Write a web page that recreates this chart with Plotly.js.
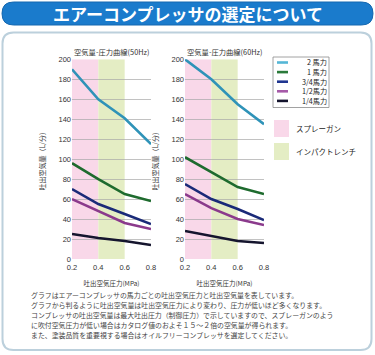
<!DOCTYPE html>
<html><head><meta charset="utf-8">
<script src="https://cdn.plot.ly/plotly-3.0.1.min.js"></script>
<style>html,body{margin:0;padding:0;background:#fff}#chart{width:375px;height:355px}</style>
</head><body><div id="chart"></div>
<script>
// ---- data ----
const pressure = [0.2, 0.4, 0.6, 0.8];
const seriesNames = ['2\u00a0馬力', '1\u00a0馬力', '3/4馬力', '1/2馬力', '1/4馬力'];
const seriesColors = ['#2f93b8', '#1e6b2e', '#1a2a78', '#8b3a8c', '#15152e'];
const legendColors = ['#55b6d6', '#2a7a3a', '#1f3590', '#a65aa8', '#15152e'];
const hz50_2hp = [190, 160, 141, 115];
const hz50_1hp = [96, 80, 65, 58];
const hz50_34hp = [70, 55, 45, 35];
const hz50_12hp = [60, 48, 36, 30];
const hz50_14hp = [25, 21, 18, 14];
const hz60_2hp = [200, 180, 155, 135];
const hz60_1hp = [102, 87, 72, 65];
const hz60_34hp = [75, 60, 50, 39];
const hz60_12hp = [65, 51, 40, 34];
const hz60_14hp = [28, 23, 18, 16];
const bandNames = ['スプレーガン', 'インパクトレンチ'];
const bandRanges = [[0.2, 0.4], [0.4, 0.6]];
const bandColors = ['#f9d8e9', '#e4edc4'];
const xTicks = [0.2, 0.4, 0.6, 0.8];
const yTicks = [0, 20, 40, 60, 80, 100, 120, 140, 160, 180, 200];
const mainTitle = 'エアーコンプレッサの選定について';
const chartTitles = ['空気量-圧力曲線(50Hz)', '空気量-圧力曲線(60Hz)'];
const xTitle = '吐出空気圧力(MPa)';
const yTitle = '吐出空気量（L/分）';
const notes = [
  'グラフはエアーコンプレッサの馬力ごとの吐出空気圧力と吐出空気量を表しています。',
  'グラフから判るように吐出空気量は吐出空気圧力により変わり、圧力が低いほど多くなります。',
  'コンプレッサの吐出空気量は最大吐出圧力（制御圧力）で示していますので、スプレーガンのよう',
  'に吹付空気圧力が低い場合はカタログ値のおよそ１５～２倍の空気量が得られます。',
  'また、塗装品質を重要視する場合はオイルフリーコンプレッサを選定してください。'
];

// ---- layout helpers ----
const W = 375, H = 355;
const px = x => x / W;
const py = y => 1 - y / H;
const JP = '"Noto Sans CJK JP", "Noto Sans", sans-serif';
function roundRect(x0, y0, x1, y1, r) {
  const p = (x, y) => px(x) + ',' + py(y);
  return 'M' + p(x0 + r, y0) + ' L' + p(x1 - r, y0) + ' Q' + p(x1, y0) + ' ' + p(x1, y0 + r) +
    ' L' + p(x1, y1 - r) + ' Q' + p(x1, y1) + ' ' + p(x1 - r, y1) +
    ' L' + p(x0 + r, y1) + ' Q' + p(x0, y1) + ' ' + p(x0, y1 - r) +
    ' L' + p(x0, y0 + r) + ' Q' + p(x0, y0) + ' ' + p(x0 + r, y0) + ' Z';
}

const set50 = [hz50_2hp, hz50_1hp, hz50_34hp, hz50_12hp, hz50_14hp];
const set60 = [hz60_2hp, hz60_1hp, hz60_34hp, hz60_12hp, hz60_14hp];
const traces = [];
[set50, set60].forEach((set, k) => {
  set.forEach((vals, i) => {
    traces.push({
      type: 'scatter', mode: 'lines', x: pressure, y: vals, name: seriesNames[i],
      xaxis: k ? 'x2' : 'x', yaxis: k ? 'y2' : 'y', showlegend: false,
      line: {color: seriesColors[i], width: 2.6}, hoverinfo: 'skip'
    });
  });
});

const shapes = [];
const annotations = [];
// panel
shapes.push({type: 'path', xref: 'paper', yref: 'paper', path: roundRect(2.5, 32.5, 371.5, 350, 11),
  fillcolor: '#ffffff', line: {color: '#bcd0dc', width: 2}, layer: 'below'});
// title bar
shapes.push({type: 'path', xref: 'paper', yref: 'paper', path: roundRect(2, 2, 373, 25, 11.5),
  fillcolor: '#1a7bcc', line: {color: '#1568b0', width: 1}, layer: 'below'});
annotations.push({xref: 'paper', yref: 'paper', x: px(188), y: py(13.5), text: mainTitle, showarrow: false,
  xanchor: 'center', yanchor: 'middle', font: {family: JP, size: 17, color: '#ffffff', weight: 'bold'}});

// bands
['x', 'x2'].forEach((xa, k) => {
  bandRanges.forEach((r, j) => {
    shapes.push({type: 'rect', xref: xa, yref: k ? 'y2' : 'y', x0: r[0], x1: r[1], y0: 0, y1: 200,
      fillcolor: bandColors[j], line: {width: 0}, layer: 'below'});
  });
});

// chart titles
const centers = [111.5, 224.5];
chartTitles.forEach((t, k) => {
  annotations.push({xref: 'paper', yref: 'paper', x: px(centers[k]), y: py(52), text: t, showarrow: false,
    xanchor: 'center', yanchor: 'middle', font: {family: JP, size: 7.3, color: '#333'}});
});

// legend (manual)
shapes.push({type: 'rect', xref: 'paper', yref: 'paper', x0: px(273), x1: px(329), y0: py(57), y1: py(107.5),
  fillcolor: 'rgba(0,0,0,0)', line: {color: '#8a8a8a', width: 0.8}});
seriesNames.forEach((n, i) => {
  const yy = 62.5 + i * 9.6;
  shapes.push({type: 'line', xref: 'paper', yref: 'paper', x0: px(277), x1: px(288), y0: py(yy), y1: py(yy),
    line: {color: legendColors[i], width: 2.6}});
  annotations.push({xref: 'paper', yref: 'paper', x: px(328), y: py(yy), text: n, showarrow: false,
    xanchor: 'right', yanchor: 'middle', borderpad: 0, font: {family: JP, size: 7.2, color: '#222'}});
});
// band legend
const bandY = [[120, 137], [143, 160]];
bandNames.forEach((n, j) => {
  shapes.push({type: 'rect', xref: 'paper', yref: 'paper', x0: px(274), x1: px(289), y0: py(bandY[j][0]), y1: py(bandY[j][1]),
    fillcolor: bandColors[j], line: {width: 0}});
  annotations.push({xref: 'paper', yref: 'paper', x: px(294), y: py((bandY[j][0] + bandY[j][1]) / 2), text: n, showarrow: false,
    xanchor: 'left', yanchor: 'middle', font: {family: JP, size: 7.5, color: '#222'}});
});

// notes
notes.forEach((t, i) => {
  annotations.push({xref: 'paper', yref: 'paper', x: px(29), y: py(295 + i * 10), text: t, showarrow: false,
    xanchor: 'left', yanchor: 'middle', font: {family: JP, size: 6.9, color: '#444'}});
});

const yDom = [py(259), py(59.3)];
function xax(dom) {
  return {domain: dom, range: [0.2, 0.8], tickvals: xTicks, ticktext: xTicks.map(v => v.toFixed(1)),
    showgrid: false, zeroline: false, showline: false, ticks: '', fixedrange: true, ticklabelstandoff: 2,
    tickfont: {family: 'Liberation Sans, Arial, sans-serif', size: 7.5, color: '#333'},
    title: {text: xTitle, font: {family: JP, size: 6.5, color: '#333'}, standoff: 10}, automargin: false};
}
function yax(anchor) {
  return {domain: yDom, range: [0, 200], tickvals: yTicks, showgrid: true, gridcolor: '#a8a8a8', gridwidth: 0.7,
    zeroline: false, showline: false, ticks: '', anchor: anchor, fixedrange: true,
    tickfont: {family: 'Liberation Sans, Arial, sans-serif', size: 7.5, color: '#333'},
    title: {text: yTitle, font: {family: JP, size: 7, color: '#333'}, standoff: 12}, automargin: false};
}
const layout = {
  width: W, height: H, autosize: false, margin: {l: 0, r: 0, t: 0, b: 0},
  paper_bgcolor: '#ffffff', plot_bgcolor: 'rgba(0,0,0,0)', showlegend: false,
  xaxis: Object.assign(xax([px(72), px(151)]), {anchor: 'y'}),
  yaxis: yax('x'),
  xaxis2: Object.assign(xax([px(185), px(264)]), {anchor: 'y2'}),
  yaxis2: yax('x2'),
  shapes: shapes, annotations: annotations
};
Plotly.newPlot('chart', traces, layout, {staticPlot: true, displayModeBar: false});
</script></body></html>
